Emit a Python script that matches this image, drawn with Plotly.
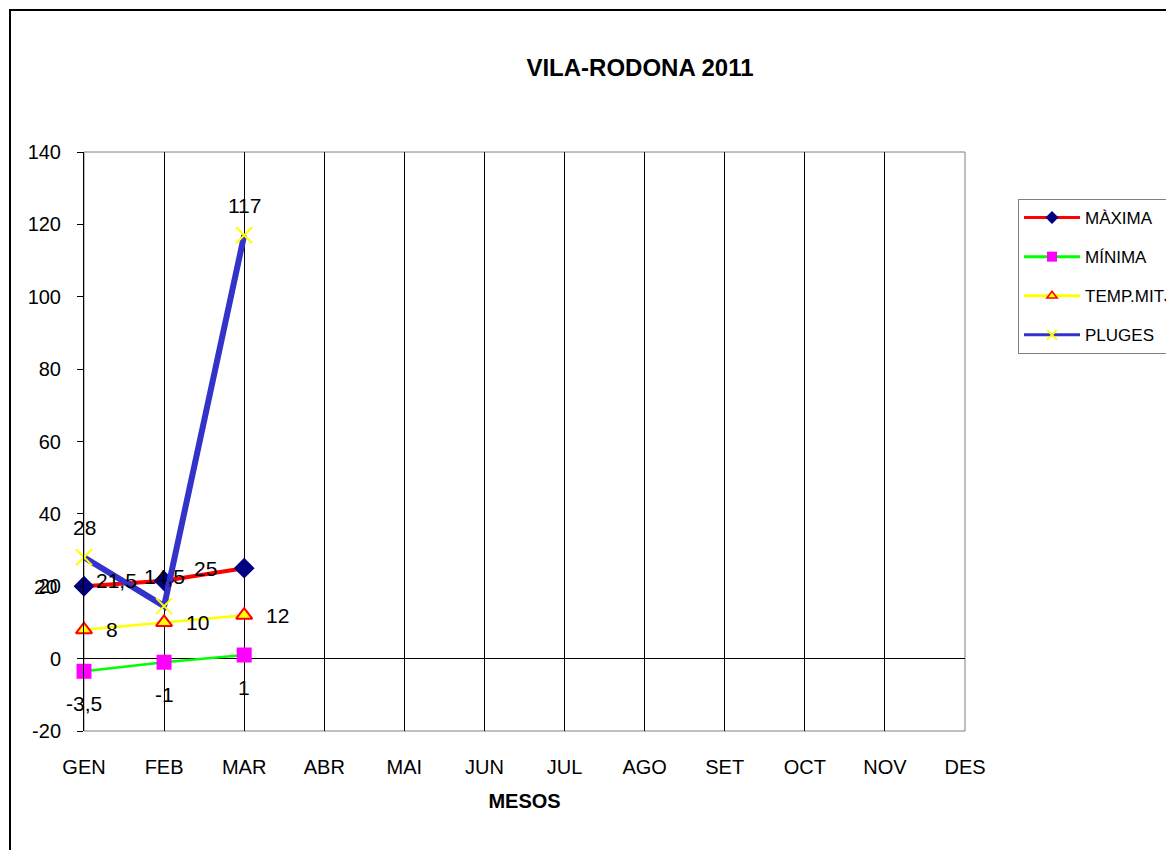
import plotly.graph_objects as go

MONTHS = ["GEN", "FEB", "MAR", "ABR", "MAI", "JUN", "JUL", "AGO", "SET", "OCT", "NOV", "DES"]
MAXIMA = [20, 21.5, 25]
MINIMA = [-3.5, -1, 1]
TEMP_MITJ = [8, 10, 12]
PLUGES = [28, 14.5, 117]
Y_TICKS = [-20, 0, 20, 40, 60, 80, 100, 120, 140]
Y_TICK_TEXT = ["-20", "0", "20", "40", "60", "80", "100", "120", "140"]

FONT = "Liberation Sans, Arial, sans-serif"
idx = list(range(len(MONTHS)))

# page body has an 8px margin in the browser; compensate so the picture lines up
OFF = 8

def fmt(v):
    return ("%g" % v).replace(".", ",")

fig = go.Figure()

series = [
    ("MÀXIMA", MAXIMA, dict(color="#FF0000", width=4),
     dict(symbol="diamond", size=16, color="#000080"),
     dict(symbol="diamond", size=10, color="#000080")),
    ("MÍNIMA", MINIMA, dict(color="#00FF00", width=2.5),
     dict(symbol="square", size=15, color="#FF00FF"),
     dict(symbol="square", size=10, color="#FF00FF")),
    ("TEMP.MITJ", TEMP_MITJ, dict(color="#FFFF00", width=2.5),
     dict(symbol="triangle-up", size=14, color="#FFFF00", line=dict(color="#FF0000", width=2)),
     dict(symbol="triangle-up", size=9, color="#FFFF00", line=dict(color="#FF0000", width=1.5))),
    ("PLUGES", PLUGES, dict(color="#3333CC", width=6),
     dict(symbol="x-thin", size=16, color="#FFFF00", line=dict(color="#FFFF00", width=2)),
     dict(symbol="x-thin", size=10, color="#FFFF00", line=dict(color="#FFFF00", width=2))),
]

for i, (name, vals, line, marker, _) in enumerate(series):
    fig.add_trace(go.Scatter(
        x=idx[:len(vals)], y=vals, name=name, mode="lines+markers",
        line=line, marker=marker, showlegend=False, cliponaxis=False,
    ))

# legend entries (thin lines, small symbols as in the reference legend)
for i, (name, vals, line, marker, lmarker) in enumerate(series):
    fig.add_trace(go.Scatter(
        x=[None], y=[None], name=name, mode="lines+markers",
        line=dict(color=line["color"], width=3), marker=lmarker,
        legendgroup="g%d" % i, showlegend=True,
    ))

label_cfg = {
    "MÀXIMA": dict(xanchor="right", yanchor="middle", xshift=-25, yshift=0),
    "MÍNIMA": dict(xanchor="center", yanchor="middle", xshift=0, yshift=-32),
    "TEMP.MITJ": dict(xanchor="left", yanchor="middle", xshift=20, yshift=0),
    "PLUGES": dict(xanchor="center", yanchor="middle", xshift=0, yshift=30),
}
annotations = []
for name, vals, _, _, _ in series:
    cfg = label_cfg[name]
    for xi, v in zip(idx, vals):
        annotations.append(dict(
            x=xi, y=v, xref="x", yref="y", text=fmt(v), showarrow=False,
            font=dict(family=FONT, size=21, color="black"), **cfg,
        ))

L, T, PW, PH = 84, 152, 881, 579
fig.update_layout(
    width=1174, height=850,
    margin=dict(l=L - OFF, r=1174 - (L - OFF) - PW, t=T - OFF, b=850 - (T - OFF) - PH, autoexpand=False),
    paper_bgcolor="white", plot_bgcolor="white",
    font=dict(family=FONT, color="black"),
    title=dict(text="<b>VILA-RODONA 2011</b>", x=(640 - OFF) / 1174, xref="container", xanchor="center",
               y=1 - (68 - OFF) / 850, yref="container", yanchor="middle",
               font=dict(family=FONT, size=24, color="black")),
    showlegend=True,
    legend=dict(x=(1018 - L) / PW, y=(T + PH - 199) / PH, xanchor="left", yanchor="top",
                bgcolor="white", bordercolor="#808080", borderwidth=1,
                font=dict(family=FONT, size=17, color="black"),
                tracegroupgap=14, itemwidth=56),
    xaxis=dict(range=[0, 11], tickmode="array", tickvals=idx, ticktext=MONTHS,
               showgrid=True, gridcolor="#000000", gridwidth=1,
               zeroline=False, showline=False, ticks="",
               tickfont=dict(family=FONT, size=20, color="black"),
               ticklabelstandoff=22,
               title=dict(text="<b>MESOS</b>", font=dict(family=FONT, size=20, color="black"), standoff=16)),
    yaxis=dict(range=[-20, 140], tickmode="array", tickvals=Y_TICKS, ticktext=Y_TICK_TEXT,
               showgrid=False, zeroline=True, zerolinecolor="black", zerolinewidth=1,
               showline=True, linecolor="black", linewidth=1,
               ticks="outside", ticklen=6, tickcolor="black",
               tickfont=dict(family=FONT, size=20, color="black"),
               ticklabelstandoff=12),
    yaxis2=dict(range=[-20, 140], overlaying="y", side="left", anchor="x",
                tickmode="array", tickvals=Y_TICKS, ticks="inside", ticklen=6, tickcolor="black",
                showticklabels=False, showgrid=False, zeroline=False, showline=False),
    annotations=annotations,
    shapes=[
        dict(type="rect", xref="paper", yref="paper", x0=0, x1=1, y0=0, y1=1,
             line=dict(color="#808080", width=1), layer="below"),
        dict(type="rect", xref="paper", yref="paper",
             x0=(10 - L) / PW, x1=(1300 - L) / PW,
             y0=(T + PH - 950) / PH, y1=(T + PH - 10) / PH,
             line=dict(color="black", width=2), layer="below"),
    ],
)

fig.write_html("out.html")
